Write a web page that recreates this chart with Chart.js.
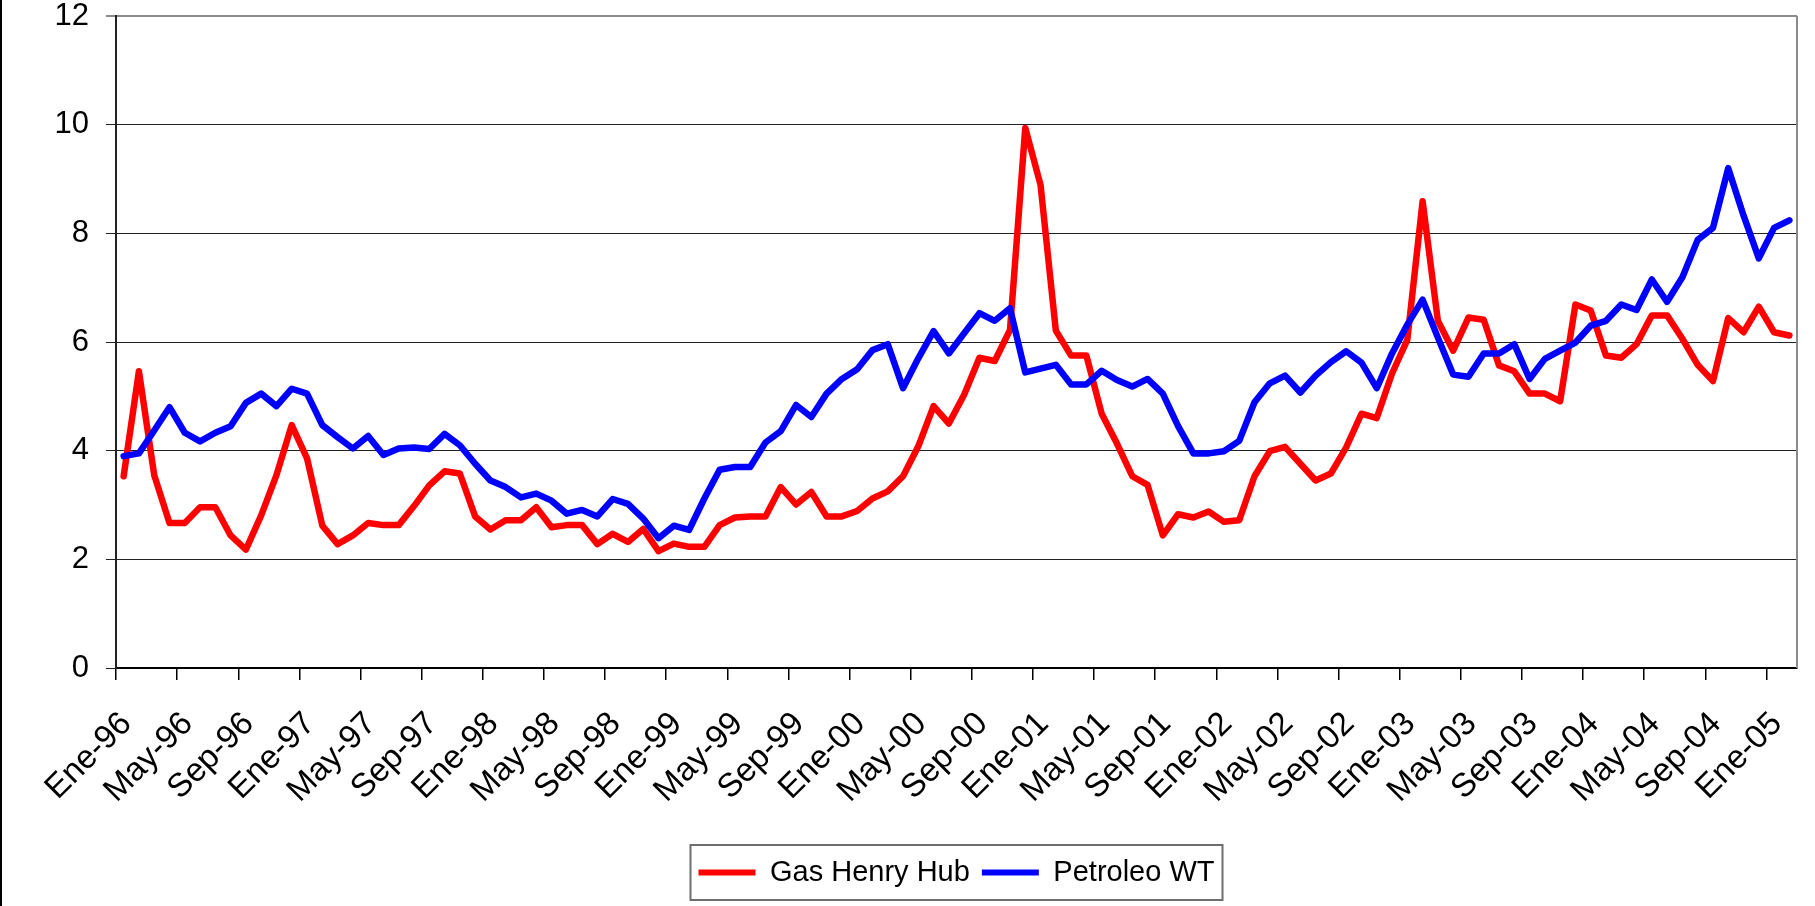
<!DOCTYPE html>
<html>
<head>
<meta charset="utf-8">
<script src="https://cdn.jsdelivr.net/npm/chart.js@4/dist/chart.umd.min.js"></script>
<style>
    html, body { margin: 0; padding: 0; background: #fff; }
    #wrap { width: 1815px; height: 906px; }
</style>
</head>
<body>
<div id="wrap"><canvas id="preciosChart" width="1815" height="906"></canvas></div>
<script>
// Month names and years used for the category axis
const meses = ['Ene', 'Feb', 'Mar', 'Abr', 'May', 'Jun', 'Jul', 'Ago', 'Sep', 'Oct', 'Nov', 'Dic'];
const anios = ['96', '97', '98', '99', '00', '01', '02', '03', '04', '05'];

// Gas Henry Hub, monthly from Ene-96 to Feb-05
const gasHenryHub = [
    3.53, 5.46, 3.55, 2.67, 2.67, 2.96, 2.96, 2.44, 2.18, 2.81, 3.55, 4.47,
    3.86, 2.62, 2.28, 2.44, 2.67, 2.63, 2.63, 2.98, 3.36, 3.62, 3.58, 2.79,
    2.55, 2.72, 2.72, 2.96, 2.59, 2.63, 2.63, 2.28, 2.47, 2.32, 2.56, 2.15,
    2.29, 2.23, 2.23, 2.63, 2.77, 2.79, 2.79, 3.33, 3.01, 3.24, 2.79, 2.79,
    2.89, 3.12, 3.25, 3.53, 4.08, 4.82, 4.50, 5.03, 5.71, 5.65, 6.22, 9.94,
    8.89, 6.21, 5.75, 5.75, 4.68, 4.13, 3.53, 3.37, 2.44, 2.83, 2.77, 2.88,
    2.69, 2.72, 3.53, 3.99, 4.07, 3.76, 3.45, 3.58, 4.06, 4.68, 4.60, 5.42,
    6.04, 8.59, 6.39, 5.84, 6.45, 6.41, 5.57, 5.46, 5.05, 5.05, 4.91, 6.69,
    6.58, 5.75, 5.71, 5.96, 6.49, 6.49, 6.06, 5.58, 5.28, 6.44, 6.18, 6.65,
    6.18, 6.12
];

// Petroleo WT, same months
const petroleoWT = [
    3.90, 3.95, 4.37, 4.80, 4.33, 4.17, 4.33, 4.45, 4.88, 5.05, 4.82, 5.14,
    5.05, 4.47, 4.25, 4.04, 4.27, 3.92, 4.04, 4.06, 4.03, 4.31, 4.10, 3.76,
    3.45, 3.33, 3.14, 3.21, 3.08, 2.84, 2.91, 2.79, 3.11, 3.02, 2.75, 2.39,
    2.62, 2.54, 3.12, 3.65, 3.70, 3.70, 4.15, 4.36, 4.84, 4.62, 5.05, 5.32,
    5.50, 5.85, 5.96, 5.15, 5.70, 6.20, 5.79, 6.16, 6.53, 6.39, 6.62, 5.44,
    5.51, 5.58, 5.22, 5.22, 5.47, 5.30, 5.18, 5.32, 5.05, 4.45, 3.95, 3.95,
    3.99, 4.18, 4.89, 5.24, 5.38, 5.07, 5.38, 5.63, 5.83, 5.62, 5.15, 5.79,
    6.32, 6.78, 6.08, 5.40, 5.36, 5.79, 5.79, 5.96, 5.32, 5.69, 5.84, 5.99,
    6.30, 6.39, 6.69, 6.59, 7.15, 6.74, 7.19, 7.88, 8.10, 9.20, 8.33, 7.54,
    8.10, 8.24
];

// Y axis ticks
const yTicks = [0, 2, 4, 6, 8, 10, 12];

// Build the month labels (Ene-96 ... Feb-05)
const etiquetas = [];
for (let i = 0; i < gasHenryHub.length; i++) {
    etiquetas.push(meses[i % 12] + '-' + anios[Math.floor(i / 12)]);
}

const fuente = "'Liberation Sans', Arial, sans-serif";

// Background, left frame line, right plot border and legend frame
const marcoPlugin = {
    id: 'marco',
    beforeDraw(chart) {
        const ctx = chart.ctx;
        ctx.save();
        ctx.fillStyle = '#fff';
        ctx.fillRect(0, 0, chart.width, chart.height);
        ctx.fillStyle = '#000';
        ctx.fillRect(0, 0, 2, chart.height);
        ctx.restore();
    },
    afterDraw(chart) {
        const ctx = chart.ctx;
        const area = chart.chartArea;
        ctx.save();
        ctx.strokeStyle = '#8c8c8c';
        ctx.lineWidth = 2;
        ctx.beginPath();
        ctx.moveTo(area.right, area.top);
        ctx.lineTo(area.right, area.bottom);
        ctx.stroke();

        const cajas = chart.legend.legendHitBoxes;
        if (cajas && cajas.length) {
            const first = cajas[0];
            const last = cajas[cajas.length - 1];
            const centro = first.top + first.height / 2;
            const x0 = first.left - 8;
            const x1 = last.left + last.width + 8;
            ctx.strokeStyle = '#6e6e6e';
            ctx.lineWidth = 2;
            ctx.strokeRect(x0, centro - 27.5, x1 - x0, 55);
        }
        ctx.restore();
    }
};

new Chart(document.getElementById('preciosChart').getContext('2d'), {
    type: 'line',
    data: {
        labels: etiquetas,
        datasets: [{
            label: 'Gas Henry Hub',
            data: gasHenryHub,
            borderColor: '#ff0000',
            backgroundColor: '#ff0000',
            borderWidth: 6.5,
            pointRadius: 0,
            tension: 0,
            borderJoinStyle: 'round',
            borderCapStyle: 'round',
            order: 1
        }, {
            label: 'Petroleo WT',
            data: petroleoWT,
            borderColor: '#0000ff',
            backgroundColor: '#0000ff',
            borderWidth: 6.5,
            pointRadius: 0,
            tension: 0,
            borderJoinStyle: 'round',
            borderCapStyle: 'round',
            order: 0
        }]
    },
    options: {
        responsive: false,
        animation: false,
        layout: { padding: { left: 0, top: 16, right: 18, bottom: 9 } },
        plugins: {
            tooltip: { enabled: false },
            legend: {
                position: 'bottom',
                fullSize: false,
                labels: {
                    color: '#000',
                    font: { family: fuente, size: 29, lineHeight: 1 },
                    boxWidth: 57,
                    boxHeight: 6,
                    padding: 12,
                    sort: (a, b) => a.datasetIndex - b.datasetIndex,
                    generateLabels: (chart) =>
                        Chart.defaults.plugins.legend.labels.generateLabels(chart)
                            .map(l => Object.assign(l, { lineWidth: 0 }))
                }
            }
        },
        scales: {
            x: {
                type: 'category',
                offset: true,
                grid: {
                    offset: true,
                    drawOnChartArea: false,
                    drawTicks: true,
                    tickLength: 12,
                    color: (c) => (c.index % 4 === 0 ? '#000' : 'rgba(0,0,0,0)'),
                    lineWidth: 1.5
                },
                border: { display: true, color: '#000', width: 2 },
                ticks: {
                    autoSkip: false,
                    maxRotation: 45,
                    minRotation: 45,
                    padding: 27,
                    labelOffset: 3,
                    color: '#000',
                    font: { family: fuente, size: 33, lineHeight: 1 },
                    callback: function (value, index) {
                        return index % 4 === 0 ? this.getLabelForValue(value) : '';
                    }
                },
                afterFit: (scale) => {
                    scale.height = 178;
                    scale.paddingLeft = 0;
                    scale.paddingRight = 0;
                }
            },
            y: {
                min: yTicks[0],
                max: yTicks[yTicks.length - 1],
                afterBuildTicks: (scale) => { scale.ticks = yTicks.map(v => ({ value: v })); },
                grid: {
                    color: (c) => (c.tick && c.tick.value === 12 ? '#8c8c8c' : '#222'),
                    lineWidth: (c) => (c.tick && c.tick.value === 12 ? 2 : 1),
                    tickLength: 10
                },
                border: { display: true, color: '#222', width: 2 },
                ticks: {
                    padding: 17,
                    color: '#000',
                    font: { family: fuente, size: 31, lineHeight: 1 }
                },
                afterFit: (scale) => {
                    scale.width = 116;
                    scale.paddingTop = 0;
                    scale.paddingBottom = 0;
                }
            }
        }
    },
    plugins: [marcoPlugin]
});
</script>
</body>
</html>
